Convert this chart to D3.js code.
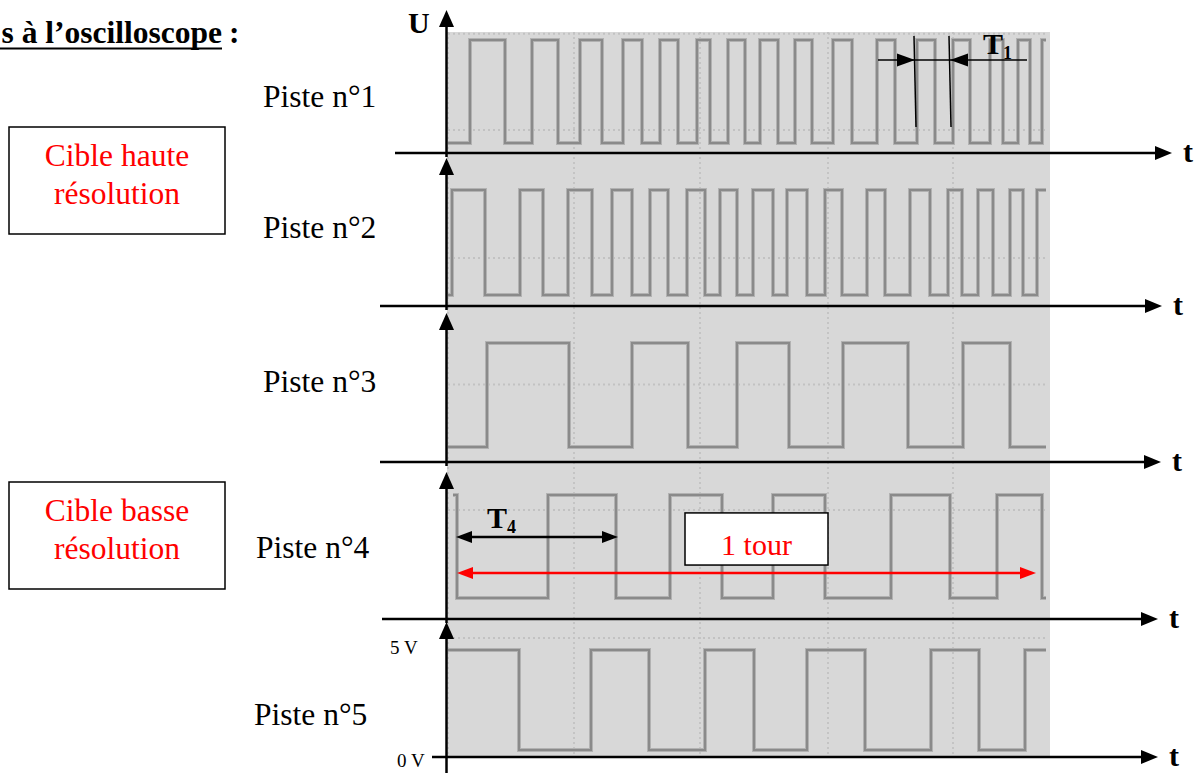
<!DOCTYPE html>
<html>
<head>
<meta charset="utf-8">
<script src="https://cdn.jsdelivr.net/npm/d3@7"></script>
<style>
  body { margin: 0; background: #fff; }
  text { font-family: "Liberation Serif", "Times New Roman", serif; }
</style>
</head>
<body>
<svg></svg>
<script>
// screen time in arbitrary units, 0..600 across the scope capture
// each piste: starting level (V) then the times where the signal toggles
var pistes = ["Piste n°1", "Piste n°2", "Piste n°3", "Piste n°4", "Piste n°5"];
var startTimes = [0, 0, 0, 5, 0];
var startLevels = [0, 0, 0, 5, 5];
var endTime = 598;
var edges1 = [22, 57, 84, 110, 132, 154, 175, 194, 212, 230, 249, 262, 280, 297, 312, 330,
              347, 364, 385, 404, 429, 447, 469, 487, 505, 522, 542, 555, 570, 582, 594];
var edges2 = [4, 37, 72, 95, 120, 144, 164, 184, 202, 220, 239, 257, 272, 289, 305, 325,
              339, 359, 377, 394, 419, 437, 462, 482, 500, 514, 530, 545, 562, 575, 589];
var edges3 = [39, 121, 184, 240, 289, 341, 395, 460, 515, 562];
var edges4 = [9, 100, 168, 222, 274, 325, 377, 443, 502, 549, 594];
var edges5 = [71, 143, 201, 257, 306, 359, 417, 483, 531, 577];
var allEdges = [edges1, edges2, edges3, edges4, edges5];

// dotted graticule of the scope captures
var gridTimes = [0, 126, 252, 380, 505];
var gridVolts = [[0.63, 5.3], [1.76], [3.0], [4.27], [5.6]];

// annotations (time, volts of their piste)
var t1Marks = [467, 502];      // piste 1
var t4Span = [8, 170];         // piste 4
var tourSpan = [9, 588];       // piste 4
var tourBox = [237, 380];

var boxLabels = [["Cible haute", "résolution"], ["Cible basse", "résolution"]];

// layout
var W = 1198, H = 773;
var baseY = [153, 306, 462, 619, 757],
    lowY = [143, 295, 447, 598, 750],
    highY = [40, 190, 343, 495, 650],
    axisTop = [10, 158, 313, 472, 622],
    axisStart = [395, 380, 380, 382, 432],
    axisEnd = [1172, 1162, 1161, 1158, 1158],
    labelX = [263, 263, 263, 256, 254],
    labelY = [107, 238, 392, 558, 725],
    axisX = 446.5;

var svg = d3.select("svg").attr("width", W).attr("height", H);

var x = d3.scaleLinear().domain([0, 600]).range([448, 1048]);
var yScales = baseY.map(function(b, i) {
  return d3.scaleLinear().domain([0, 5]).range([lowY[i], highY[i]]);
});

// screen background
svg.append("rect")
    .attr("x", 447).attr("y", 32)
    .attr("width", 603).attr("height", 725)
    .attr("fill", "#d8d8d8");

// graticule
gridTimes.forEach(function(t) {
  svg.append("line")
      .attr("x1", x(t)).attr("x2", x(t))
      .attr("y1", 32).attr("y2", 757)
      .attr("stroke", "#c4c4c4").attr("stroke-width", 2)
      .attr("stroke-dasharray", "2,3");
});
gridVolts.forEach(function(vs, i) {
  vs.forEach(function(v) {
    svg.append("line")
        .attr("x1", x(0)).attr("x2", x(598))
        .attr("y1", yScales[i](v)).attr("y2", yScales[i](v))
        .attr("stroke", "#c2c2c2").attr("stroke-width", 2)
        .attr("stroke-dasharray", "2,3");
  });
});

// traces
var line = d3.line().curve(d3.curveStepAfter);
allEdges.forEach(function(edges, i) {
  var level = startLevels[i];
  var pts = [[startTimes[i], level]];
  edges.forEach(function(t) {
    level = level ? 0 : 5;
    pts.push([t, level]);
  });
  pts.push([endTime, level]);
  var d = line(pts.map(function(p) { return [x(p[0]), yScales[i](p[1])]; }));
  svg.append("path").attr("d", d).attr("fill", "none")
      .attr("stroke", "#b2b2b2").attr("stroke-width", 4);
  svg.append("path").attr("d", d).attr("fill", "none")
      .attr("stroke", "#8a8a8a").attr("stroke-width", 2);
});

// arrowheads helper
function arrowHead(g, tipX, tipY, dir, len, half, color) {
  var pts;
  if (dir == "right") pts = [[tipX, tipY], [tipX - len, tipY - half], [tipX - len, tipY + half]];
  if (dir == "left") pts = [[tipX, tipY], [tipX + len, tipY - half], [tipX + len, tipY + half]];
  if (dir == "up") pts = [[tipX, tipY], [tipX - half, tipY + len], [tipX + half, tipY + len]];
  g.append("path").attr("d", "M" + pts.join("L") + "Z").attr("fill", color || "#000");
}

// axes
baseY.forEach(function(b, i) {
  svg.append("line")
      .attr("x1", axisStart[i]).attr("x2", axisEnd[i] - 12)
      .attr("y1", b).attr("y2", b)
      .attr("stroke", "#000").attr("stroke-width", 2.5);
  arrowHead(svg, axisEnd[i], b, "right", 17, 7);
  svg.append("text")
      .attr("x", axisEnd[i] + 11).attr("y", b + 9)
      .attr("font-weight", "bold").attr("font-size", 30)
      .text("t");

  svg.append("line")
      .attr("x1", axisX).attr("x2", axisX)
      .attr("y1", i == 4 ? b + 16 : b + 4).attr("y2", axisTop[i] + 12)
      .attr("stroke", "#000").attr("stroke-width", 2.5);
  arrowHead(svg, axisX, axisTop[i], "up", 17, 7.5);

  svg.append("text")
      .attr("x", labelX[i]).attr("y", labelY[i])
      .attr("font-size", 31.5)
      .text(pistes[i]);
});

svg.append("text").attr("x", 408).attr("y", 33)
    .attr("font-weight", "bold").attr("font-size", 30).text("U");
svg.append("text").attr("x", 390).attr("y", 654)
    .attr("font-size", 19).text("5 V");
svg.append("text").attr("x", 397).attr("y", 767)
    .attr("font-size", 19).text("0 V");

// title
svg.append("text").attr("x", 222).attr("y", 43)
    .attr("text-anchor", "end")
    .attr("font-weight", "bold").attr("font-size", 31.5)
    .text("s à l’oscilloscope");
svg.append("line").attr("x1", 0).attr("x2", 222).attr("y1", 48.5).attr("y2", 48.5)
    .attr("stroke", "#000").attr("stroke-width", 2.2);
svg.append("text").attr("x", 229).attr("y", 43)
    .attr("font-weight", "bold").attr("font-size", 31.5).text(":");

// target boxes
var boxTop = [127, 482];
boxLabels.forEach(function(lines, i) {
  svg.append("rect")
      .attr("x", 9).attr("y", boxTop[i])
      .attr("width", 216).attr("height", 107)
      .attr("fill", "#fff").attr("stroke", "#000").attr("stroke-width", 1.5);
  lines.forEach(function(s, j) {
    svg.append("text")
        .attr("x", 117).attr("y", boxTop[i] + 39 + j * 38)
        .attr("text-anchor", "middle")
        .attr("font-size", 31.5).attr("fill", "#ff0000")
        .text(s);
  });
});

// T1 annotation on piste 1
var y1 = yScales[0];
t1Marks.forEach(function(t) {
  svg.append("line")
      .attr("x1", x(t) - 1).attr("x2", x(t) + 1)
      .attr("y1", y1(5.2)).attr("y2", y1(0.78))
      .attr("stroke", "#000").attr("stroke-width", 1.5);
});
svg.append("line")
    .attr("x1", x(430)).attr("x2", x(579))
    .attr("y1", y1(4.03)).attr("y2", y1(4.03))
    .attr("stroke", "#000").attr("stroke-width", 1.5);
arrowHead(svg, x(t1Marks[0]), y1(4.03), "right", 18, 6.5);
arrowHead(svg, x(t1Marks[1]), y1(4.03), "left", 18, 6.5);
var t1Label = svg.append("text").attr("x", 983).attr("y", 54)
    .attr("font-weight", "bold").attr("font-size", 30);
t1Label.append("tspan").text("T");
t1Label.append("tspan").attr("dy", 5).attr("font-size", 18).text("1");

// T4 annotation on piste 4
var y4 = yScales[3];
svg.append("line")
    .attr("x1", x(t4Span[0]) + 10).attr("x2", x(t4Span[1]) - 10)
    .attr("y1", y4(2.96)).attr("y2", y4(2.96))
    .attr("stroke", "#000").attr("stroke-width", 2.5);
arrowHead(svg, x(t4Span[0]), y4(2.96), "left", 16, 6);
arrowHead(svg, x(t4Span[1]), y4(2.96), "right", 16, 6);
var t4Label = svg.append("text").attr("x", 487).attr("y", 528)
    .attr("font-weight", "bold").attr("font-size", 30);
t4Label.append("tspan").text("T");
t4Label.append("tspan").attr("dy", 5).attr("font-size", 18).text("4");

// 1 tour
svg.append("rect")
    .attr("x", x(tourBox[0])).attr("y", y4(4.13))
    .attr("width", x(tourBox[1]) - x(tourBox[0]))
    .attr("height", y4(1.6) - y4(4.13))
    .attr("fill", "#fff").attr("stroke", "#000").attr("stroke-width", 1.5);
svg.append("text")
    .attr("x", (x(tourBox[0]) + x(tourBox[1])) / 2).attr("y", y4(2.1))
    .attr("text-anchor", "middle")
    .attr("font-size", 30).attr("fill", "#ff0000")
    .text("1 tour");
svg.append("line")
    .attr("x1", x(tourSpan[0]) + 10).attr("x2", x(tourSpan[1]) - 10)
    .attr("y1", y4(1.21)).attr("y2", y4(1.21))
    .attr("stroke", "#ff0000").attr("stroke-width", 2.5);
arrowHead(svg, x(tourSpan[0]), y4(1.21), "left", 16, 6, "#ff0000");
arrowHead(svg, x(tourSpan[1]), y4(1.21), "right", 16, 6, "#ff0000");
</script>
</body>
</html>
